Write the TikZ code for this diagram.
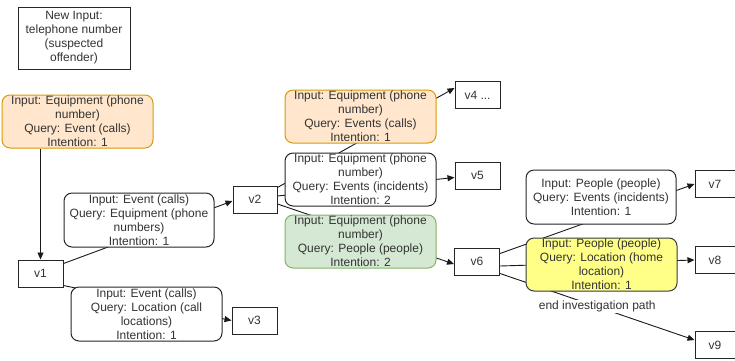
\documentclass[tikz,border=0pt]{standalone}
\usepackage{fontspec}
\setmainfont{Liberation Sans}
\usetikzlibrary{arrows.meta,backgrounds}
\definecolor{orfill}{HTML}{FFE6CC}
\definecolor{ordraw}{HTML}{D79B00}
\definecolor{grfill}{HTML}{D5E8D4}
\definecolor{grdraw}{HTML}{82B366}
\definecolor{yefill}{HTML}{FFFF88}
\definecolor{yedraw}{HTML}{36393D}
\definecolor{txt}{HTML}{333333}
\begin{document}
\begin{tikzpicture}[x=1pt,y=-1pt,
  every node/.style={font=\fontsize{12}{14}\selectfont, text=txt, align=center, inner sep=0pt},
  vbox/.style={draw=black!85, line width=1pt, fill=white, minimum width=45pt, minimum height=27pt},
  lbox/.style={draw=black!85, line width=1pt, fill=white, rounded corners=8pt, minimum width=151pt, minimum height=53pt},
  orbox/.style={lbox, fill=orfill, draw=ordraw},
  grbox/.style={lbox, fill=grfill, draw=grdraw},
  yebox/.style={lbox, fill=yefill, draw=yedraw},
  conn/.style={line width=0.9pt, draw=black!90},
  arr/.style={conn, -{Triangle[length=7pt,width=6pt]}}]
\useasboundingbox (0,0) rectangle (735,360);

% input box
\node[draw=black!85, line width=1pt, minimum width=112pt, minimum height=62pt] (newin) at (74,38)
  {New Input:\\telephone number\\(suspected\\offender)};

% vertex boxes
\node[vbox] (v1) at (40.5,273.5) {v1};
\node[vbox, minimum width=44pt] (v2) at (255,199.5) {v2};
\node[vbox] (v3) at (254.5,320.5) {v3};
\node[vbox] (v4) at (477.5,95) {v4 ...};
\node[vbox] (v5) at (477.5,175.5) {v5};
\node[vbox] (v6) at (477,261.5) {v6};
\node[vbox, minimum width=40pt] (v7) at (715,184) {v7};
\node[vbox, minimum width=40pt] (v8) at (715,260) {v8};
\node[vbox, minimum width=40pt] (v9) at (715,345) {v9};

% label boxes
\node[orbox] (b1) at (77.5,121.5) {Input: Equipment (phone\\number)\\Query: Event (calls)\\Intention: 1};
\node[lbox, minimum width=150pt, minimum height=54pt] (bA) at (139,220) {Input: Event (calls)\\Query: Equipment (phone\\numbers)\\Intention: 1};
\node[lbox, minimum height=54pt] (bB) at (146.5,314) {Input: Event (calls)\\Query: Location (call\\locations)\\Intention: 1};
\node[orbox] (b2) at (360.5,116.5) {Input: Equipment (phone\\number)\\Query: Events (calls)\\Intention: 1};
\node[lbox] (bC) at (360.5,179.5) {Input: Equipment (phone\\number)\\Query: Events (incidents)\\Intention: 2};
\node[grbox] (bD) at (360.5,241.5) {Input: Equipment (phone\\number)\\Query: People (people)\\Intention: 2};
\node[lbox, minimum width=150pt, minimum height=54pt] (bE) at (601,197) {Input: People (people)\\Query: Events (incidents)\\Intention: 1};
\node[yebox] (bF) at (601.5,264.5) {Input: People (people)\\Query: Location (home\\location)\\Intention: 1};

\begin{pgfonlayer}{background}
\draw[arr] (v1.north |- b1.south) -- (v1.north);
\draw[arr] ([yshift=-4pt]v1.north east) -- ([yshift=-1.5pt]v2.west);
\draw[arr] ([yshift=2pt]v1.south east) -- (v3.west);
\draw[arr] ([yshift=-2pt]v2.north east) -- ([yshift=7pt]v4.west);
\draw[arr] ([yshift=3.5pt]v2.east) -- ([yshift=-2pt]v5.west);
\draw[arr] ([yshift=-4.5pt]v2.east) -- ([yshift=-2.5pt]v6.west);
\draw[arr] ([yshift=-6pt]v6.north east) -- (v7.west);
\draw[arr] ([yshift=-4.5pt]v6.east) -- (v8.west);
\draw[arr] ([yshift=2pt]v6.south east) -- ([yshift=5pt]v9.west)
  node[midway, fill=white, inner sep=1pt] (endl) {end investigation path};
\end{pgfonlayer}
\end{tikzpicture}
\end{document}
